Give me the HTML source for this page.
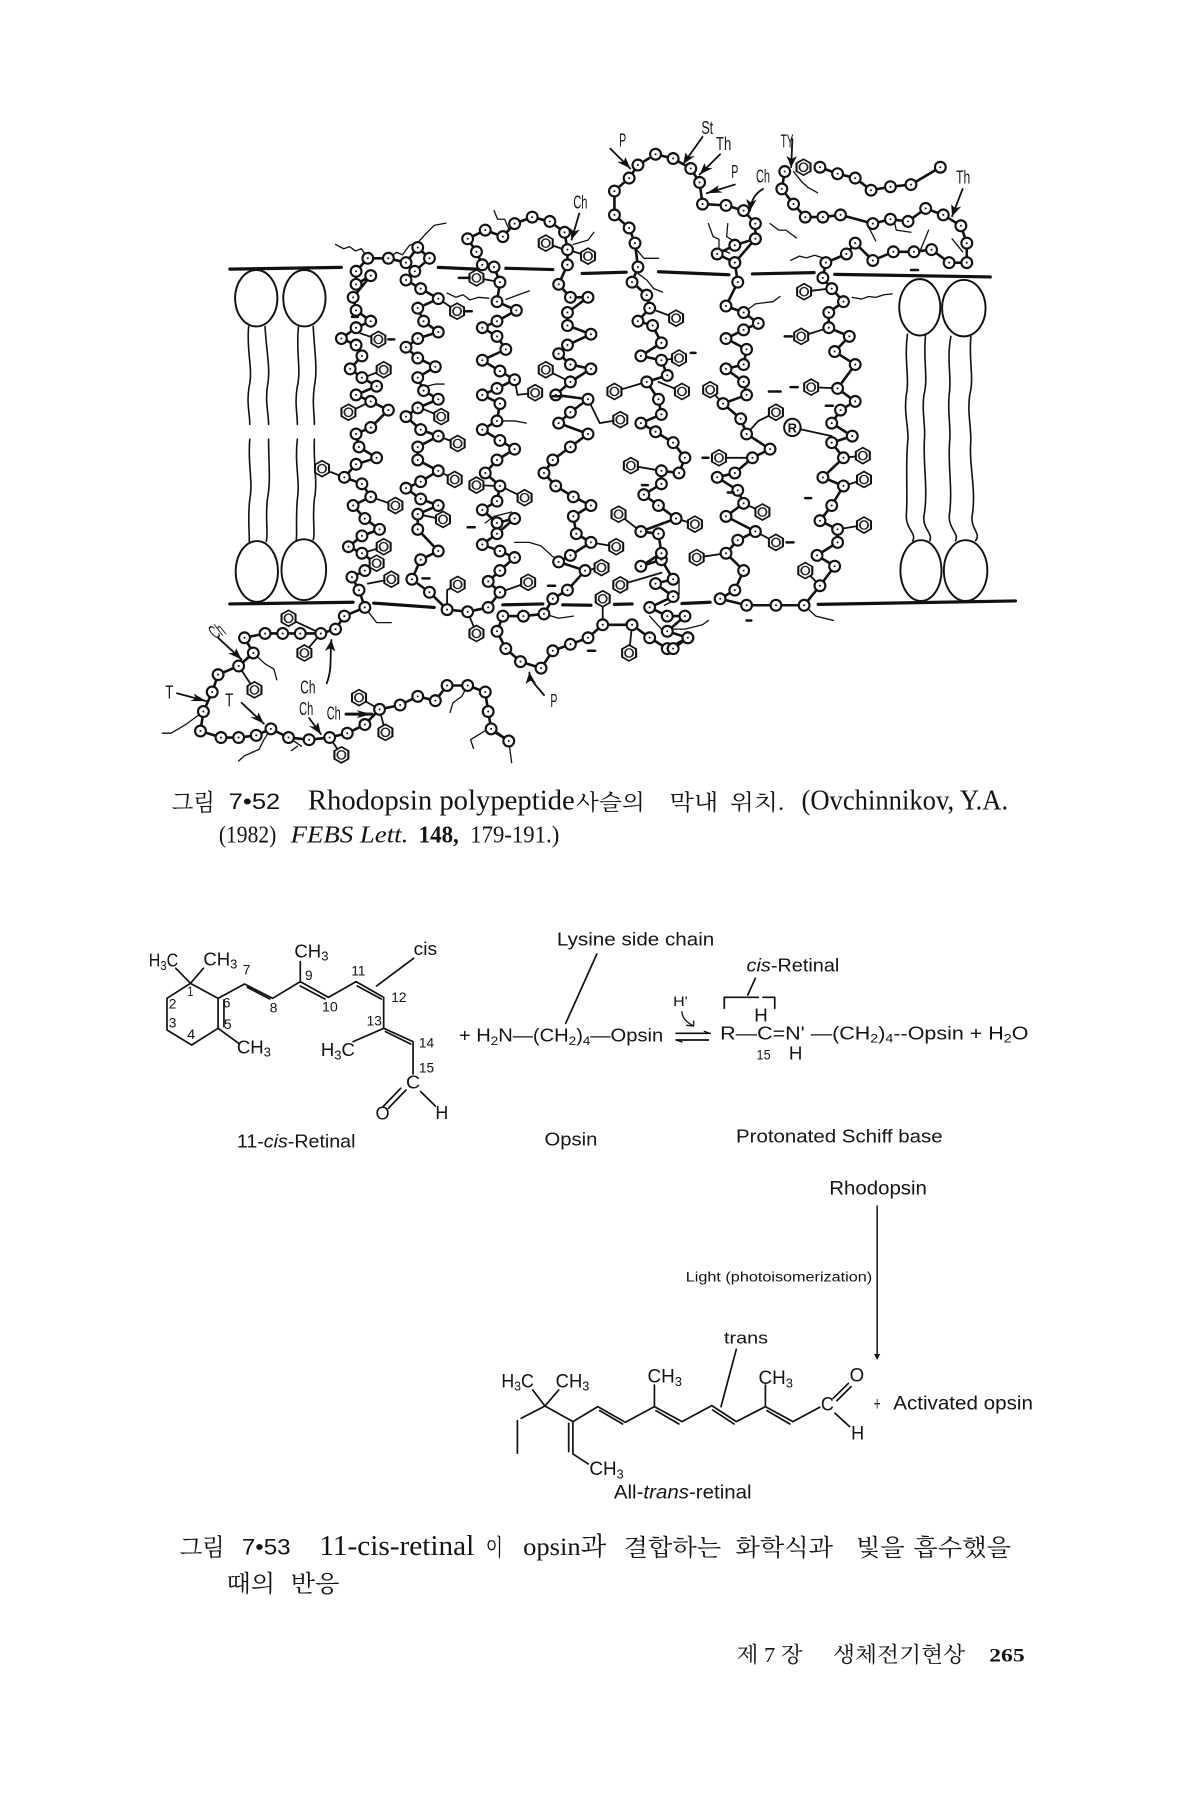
<!DOCTYPE html>
<html lang="ko">
<head>
<meta charset="utf-8">
<title>Rhodopsin figure</title>
<style>
html,body{margin:0;padding:0;background:#fff}
svg{display:block}
text{fill:#141414;font-family:"Liberation Sans","Noto Sans CJK KR",sans-serif}
.s text{font-family:"Liberation Serif","Noto Serif CJK SC","Noto Serif CJK KR",serif}
.kr{font-family:"Liberation Serif","Noto Serif CJK SC","Noto Serif CJK KR",serif!important}
.chain{fill:none;stroke:#111;stroke-width:2.600;stroke-linejoin:round;vector-effect:non-scaling-stroke;marker-start:url(#b);marker-mid:url(#b);marker-end:url(#b)}
.rings{fill:none;stroke:none;marker-start:url(#r);marker-mid:url(#r);marker-end:url(#r)}
.l{fill:none;stroke:#111;stroke-linecap:round;stroke-linejoin:round;vector-effect:non-scaling-stroke}
.l path{vector-effect:non-scaling-stroke}
.lip ellipse{vector-effect:non-scaling-stroke}
</style>
</head>
<body>
<svg xmlns="http://www.w3.org/2000/svg" width="1200" height="1800" viewBox="0 0 1200 1800">
<defs>
<marker id="b" markerUnits="userSpaceOnUse" markerWidth="26" markerHeight="34" refX="13" refY="17" orient="0">
<ellipse cx="13" cy="17" rx="11" ry="15" fill="#111"/><ellipse cx="13" cy="17" rx="7.400" ry="10" fill="#fff"/><ellipse cx="13" cy="17" rx="1.700" ry="2.300" fill="#111"/>
</marker>
<marker id="r" markerUnits="userSpaceOnUse" markerWidth="32" markerHeight="46" refX="16" refY="23" orient="0">
<polygon points="16,4.600 27.900,13.800 27.900,32.200 16,41.400 4.100,32.200 4.100,13.800" fill="#fff" stroke="#111" stroke-width="3.500"/><ellipse cx="16" cy="23" rx="7" ry="9.700" fill="none" stroke="#222" stroke-width="3"/>
</marker>
<marker id="a" markerUnits="userSpaceOnUse" markerWidth="30" markerHeight="24" refX="26" refY="12" orient="auto">
<path d="M0 3L26 12L0 21L7 12Z" fill="#111"/>
</marker>
</defs>
<rect width="1200" height="1800" fill="#fff"/>

<!-- Figure 7.52 -->
<g transform="translate(130,100) scale(.5872,.4337)">
<!-- membrane -->
<path class="l" stroke-width="3.200" d="M170 390L360 386M525 386L590 390M640 388L720 391M770 400L845 397M900 396L1020 403M1060 401L1165 398M1200 402L1465 408M170 1162L380 1158M415 1160L518 1170M635 1164L703 1162M737 1164L785 1165M825 1163L855 1162M940 1161L988 1158M1172 1163L1508 1155"/>
<!-- lipids -->
<g class="lip" fill="#fff" stroke="#111" stroke-width="1.900">
<ellipse cx="215" cy="457" rx="36" ry="65"/><ellipse cx="297" cy="457" rx="36" ry="65"/>
<ellipse cx="216" cy="1087" rx="36" ry="70"/><ellipse cx="296" cy="1083" rx="38" ry="70"/>
<ellipse cx="1345" cy="478" rx="35" ry="65"/><ellipse cx="1420" cy="480" rx="37" ry="65"/>
<ellipse cx="1347" cy="1085" rx="35" ry="70"/><ellipse cx="1423" cy="1085" rx="37" ry="70"/>
</g>
<path class="l" stroke-width="1.600" d="M202 522C198 580 210 620 203 660C198 700 204 720 204 748M230 522C232 580 240 620 234 660C230 700 236 720 236 748M287 522C282 580 292 620 285 660C280 700 285 720 285 748M312 522C314 580 320 620 314 660C310 700 314 720 314 748M204 782C200 840 210 880 204 920C200 970 204 1000 203 1018M236 782C236 840 240 880 234 920C230 970 236 1000 232 1018M285 782C280 840 290 880 285 920C282 970 285 1000 283 1014M314 782C312 840 320 880 314 920C310 970 316 1000 312 1014M1324 540C1318 600 1328 640 1322 680C1318 720 1325 750 1325 780C1320 840 1325 900 1322 960C1322 990 1340 1000 1333 1016M1355 540C1350 600 1360 640 1352 680C1348 720 1355 750 1353 780C1350 840 1360 900 1352 960C1350 990 1368 1000 1362 1016M1398 545C1390 600 1400 640 1395 680C1392 720 1398 750 1396 785C1392 840 1402 900 1395 960C1395 990 1412 1000 1406 1016M1432 545C1428 600 1438 640 1430 680C1426 720 1432 750 1432 785C1428 840 1442 900 1434 960C1432 990 1450 1000 1440 1016"/>
<!-- side chains -->
<path class="l" stroke-width="1.800" d="M423 552L392 538M432 622L398 640M372 720L410 695M327 850L365 870M452 935L410 915M432 1030L395 1045M420 1068L395 1085M445 1105L405 1115M270 1195L325 1230M297 1275L325 1230M212 1360L185 1305M435 1458L425 1405M360 1510L340 1470M390 1378L425 1405M590 1230L575 1180M558 1117L540 1130L540 1175M533 967L490 955M530 730L495 710M557 487L525 458M558 792L525 775M553 875L525 855M590 888L625 890M672 917L630 890M678 1112L630 1135M708 622L750 650M690 675L660 680L655 645M708 330L740 345M780 360L745 345M590 410L630 420M835 737L800 745L780 690M825 672L880 650M803 1078L775 1085M828 1030L785 1020M805 1150L805 1210M835 1118L905 1090M850 1275L855 1210M853 843L905 855M832 955L870 995M962 978L930 965M940 672L900 650M935 595L905 600M930 503L885 480M988 668L1010 700M1003 825L1060 825M965 1055L1015 1045M1077 950L1045 930M1100 1020L1065 995M1100 720L1070 740L1050 770M1148 442L1190 435M1143 545L1190 525M1160 662L1205 665M1248 820L1215 825M1250 875L1215 890M1250 980L1205 990M1150 1085L1175 1120M1128 755L1195 775"/>
<path class="l" stroke-width="1.300" d="M350 333l14 10 10-5 10 10 10-5 11 22M440 365l14-14 10 6 12-22 14-6 12-18 16-22 20-5M540 445l15 10 12-6 12 12 14-6 18 2M620 255l6 20 12 0 8 25M790 305l-10 18-25 10M985 285l8 30 10 6 0 22 18 10M1018 285l-2 30 12 10 8 18M1090 285l15 15 12 0 18 18M1130 165l15 25 10 12 16 12M1125 370l15-10 12 4 14-6 14 6M1230 455l16 4 12-6 12 2 14-6 14-2M1045 490l20-20 30-5 12-12M860 340l15 25 25 0M860 395l20 20 12 20 15 8M1255 285l15 40M1300 270l5 30 25 5M1360 300l-15 50M1400 320l18 30M640 460l20-10 20-10M630 740l25 0 20 5M505 660l15-5 15 0M605 975l15-15 30-10M655 1020l25 0 20 8 20 25 20 10M885 1190l20 30 20 0 20 0 30-10 10-10M935 1105l0 35-10 15-15 10M400 1170l20 35 25 0M1148 1165l20 25 30 10M705 1185l25 10 25-5M855 1210l-10-5M240 1450l-12 25-8 22-25 15-10 12M125 1410l-30 30-15 12-10 8-15 0M210 1275l20 25 15 12 5 25M610 1450l-30 25M580 1475l5 20M610 1450l30 25M645 1478l5 50M270 1470l22 20M285 1490l-10 10M575 1350l-10 25-15 15-5 22"/>
<!-- chains -->
<path class="chain" d="M645 1478L615 1450L610 1410L605 1365L575 1350L540 1350L520 1385L490 1375L460 1395L425 1405L400 1440L370 1460L340 1470L305 1475L270 1470L240 1450L215 1465L185 1470L155 1470L120 1455L125 1410L140 1365L150 1325L185 1305L210 1275L195 1240L230 1230L260 1230L290 1230L325 1230L350 1220L365 1190L400 1170L390 1130L378 1100L400 1085L420 1070L395 1045L372 1030L395 1005L425 990L400 965L380 935L410 915L395 885L365 870L385 840L420 825L390 800L385 770L410 755L440 715L410 695L385 680L420 660L395 640L375 620L395 590L385 565L360 550L385 525L410 510L385 485L380 455L410 405L385 425L385 395L405 365L440 365L470 375L490 340L510 365L485 395L470 415L495 435L525 458L490 480L500 510L525 535L490 550L470 570L490 595L520 615L490 640L500 670L525 690L490 710L470 730L495 760L525 775L490 800L490 830L525 855L495 880L470 895L495 920L525 935L490 955L490 990L525 1040L495 1060L480 1105L510 1135L540 1175L575 1180L610 1170L630 1135L610 1110L630 1085L655 1055L630 1040L600 1025L625 1000L655 965L625 975L600 945L625 925L630 890L605 860L625 830L655 805L630 785L600 760L625 740L630 700L600 680L625 665L655 645L630 625L600 600L640 575L625 545L600 525L625 510L658 485L625 465L630 420L620 385L600 380L590 350L575 320L605 300L635 315L655 285L685 270L715 280L740 305L745 345L745 380L730 425L750 455L780 455L745 490L745 520L785 540L745 565L730 585L750 610L785 620L750 650L725 680L780 690L750 720L730 745L780 770L750 800L720 830L705 860L725 890L755 915L785 935L755 960L760 1000L785 1020L750 1050L730 1065L775 1085L745 1130L720 1150L705 1185L670 1190L635 1190L625 1225L640 1265L665 1295L700 1310L720 1270L750 1255L780 1240L805 1210L855 1210L885 1240L915 1265L950 1240L915 1225L945 1190L915 1190L885 1170L925 1145L895 1115L925 1105L905 1060L870 1075L905 1045L900 1000L870 995L930 965L900 935L875 910L905 885L905 855L935 860L945 825L925 790L895 765L870 745L905 725L900 690L880 650L915 635L905 600L870 590L905 560L890 520L865 510L885 480L880 450L855 420L865 385L860 330L850 295L825 265L825 210L850 180L865 150L895 125L925 135L955 158L970 190L975 240L1015 243L1045 255L1065 285L1065 320L1030 375L1035 420L1015 475L1045 490L1070 515L1045 530L1015 550L1050 575L1045 610L1015 620L1045 650L1050 680L1010 700L1040 735L1050 770L1090 805L1060 825L1030 860L1000 870L1035 900L1045 930L1015 960L1065 995L1035 1015L1015 1045L1045 1085L1030 1130L1005 1150L1050 1165L1100 1165L1148 1165L1175 1120L1200 1075L1170 1050L1205 1020L1205 990L1175 970L1195 935L1215 890L1180 870L1215 825L1195 790L1230 775L1195 745L1210 715L1235 695L1205 665L1235 610L1200 580L1225 545L1190 525L1190 490L1215 465L1195 435L1180 410L1185 375L1220 355L1235 330L1265 370L1300 350L1335 350L1365 345L1395 375L1425 375L1425 330L1415 290L1385 265L1355 250L1325 280L1295 275L1265 285L1210 265L1180 270L1150 270L1130 240L1110 205L1115 165"/>
<path class="chain" d="M1175 155L1205 170L1235 180L1262 208L1295 200L1330 195L1380 155"/>
<path class="chain" d="M1030 335L1000 355L1030 375M1065 320L1030 335M950 1240L925 1265"/>
<!-- rings -->
<path class="rings" d="M423 552L432 622L372 720L327 850L452 935L432 1030L420 1068L445 1105L270 1195L297 1275L212 1360L435 1458L360 1510L390 1378L590 1230L558 1117L533 967L530 730L557 487L558 792L553 875L590 888L672 917L678 1112L708 622L690 675L708 330L780 360L590 410L835 737L825 672L803 1078L828 1030L805 1150L835 1118L850 1275L853 843L832 955L962 978L940 672L935 595L930 503L988 668L1003 825L965 1055L1077 950L1100 1020L1100 720L1148 442L1143 545L1160 662L1248 820L1250 875L1250 980L1150 1085L1147 155"/>
<ellipse cx="1128" cy="755" rx="14" ry="20" fill="#fff" stroke="#111" stroke-width="2" vector-effect="non-scaling-stroke"/>
<text x="1120" y="767" font-size="30" font-weight="700" textLength="16" lengthAdjust="spacingAndGlyphs">R</text>
<!-- small marks -->
<path class="l" stroke-width="2.500" d="M440 552h10M570 487h12M560 410h18M1115 545h12M1125 662h12M1088 672h20M955 583h8M720 683h16M975 825h10M1118 1020h12M498 1103h12M712 1120h12M575 985h12M378 500h10M1185 705h12M780 1270h12M1050 1200h8M1330 392h12M872 888h10M1018 905h10M1150 918h10"/>
<!-- arrows -->
<g class="l" stroke-width="1.800">
<path d="M765 262L752 322" marker-end="url(#a)"/>
<path d="M818 112L852 158" marker-end="url(#a)"/>
<path d="M975 85L942 148" marker-end="url(#a)"/>
<path d="M1005 125L970 172" marker-end="url(#a)"/>
<path d="M1030 195L982 215" marker-end="url(#a)"/>
<path d="M1078 205C1065 215 1058 230 1056 255" marker-end="url(#a)"/>
<path d="M1128 90L1126 155" marker-end="url(#a)"/>
<path d="M1418 205L1400 268" marker-end="url(#a)"/>
<path d="M335 1345C345 1310 340 1280 343 1245" marker-end="url(#a)"/>
<path d="M150 1240L190 1290" marker-end="url(#a)"/>
<path d="M80 1368L130 1386" marker-end="url(#a)"/>
<path d="M190 1390L228 1438" marker-end="url(#a)"/>
<path d="M305 1425L325 1462" marker-end="url(#a)"/>
<path d="M368 1416L412 1416" marker-end="url(#a)" stroke-width="3"/>
<path d="M705 1372C695 1355 682 1340 680 1320" marker-end="url(#a)"/>
</g>
<!-- labels -->
<g font-size="42">
<text x="755" y="250" textLength="24" lengthAdjust="spacingAndGlyphs">Ch</text>
<text x="833" y="107" textLength="12" lengthAdjust="spacingAndGlyphs">P</text>
<text x="973" y="78" textLength="20" lengthAdjust="spacingAndGlyphs">St</text>
<text x="998" y="115" textLength="26" lengthAdjust="spacingAndGlyphs">Th</text>
<text x="1024" y="180" textLength="12" lengthAdjust="spacingAndGlyphs">P</text>
<text x="1066" y="190" textLength="24" lengthAdjust="spacingAndGlyphs">Ch</text>
<text x="1108" y="110" textLength="22" lengthAdjust="spacingAndGlyphs">TY</text>
<text x="1407" y="192" textLength="24" lengthAdjust="spacingAndGlyphs">Th</text>
<text x="290" y="1368" textLength="26" lengthAdjust="spacingAndGlyphs">Ch</text>
<text x="138" y="1238" textLength="24" lengthAdjust="spacingAndGlyphs" transform="rotate(-30 150 1228)">Ch</text>
<text x="60" y="1380" textLength="14" lengthAdjust="spacingAndGlyphs">T</text>
<text x="162" y="1398" textLength="14" lengthAdjust="spacingAndGlyphs">T</text>
<text x="288" y="1418" textLength="24" lengthAdjust="spacingAndGlyphs">Ch</text>
<text x="335" y="1428" textLength="24" lengthAdjust="spacingAndGlyphs">Ch</text>
<text x="716" y="1400" textLength="12" lengthAdjust="spacingAndGlyphs">P</text>
</g>
</g>

<!-- Caption 7.52 -->
<g class="s" transform="translate(150,760) scale(.574,.3333)" font-size="84">
<text class="kr" x="38" y="152" textLength="75" lengthAdjust="spacingAndGlyphs" font-size="70">그림</text>
<text x="137" y="147" textLength="90" lengthAdjust="spacingAndGlyphs" style="font-family:'Liberation Sans',sans-serif" font-size="66">7•52</text>
<text x="275" y="148" textLength="465" lengthAdjust="spacingAndGlyphs">Rhodopsin polypeptide</text>
<text class="kr" x="742" y="150" textLength="120" lengthAdjust="spacingAndGlyphs" font-size="66">사슬의</text>
<text class="kr" x="905" y="150" textLength="85" lengthAdjust="spacingAndGlyphs" font-size="66">막내</text>
<text class="kr" x="1010" y="150" textLength="95" lengthAdjust="spacingAndGlyphs" font-size="66">위치.</text>
<text x="1135" y="148" textLength="360" lengthAdjust="spacingAndGlyphs">(Ovchinnikov, Y.A.</text>
<g font-size="74">
<text x="120" y="247" textLength="100" lengthAdjust="spacingAndGlyphs">(1982)</text>
<text x="245" y="247" textLength="205" lengthAdjust="spacingAndGlyphs" font-style="italic">FEBS Lett.</text>
<text x="468" y="247" textLength="70" lengthAdjust="spacingAndGlyphs" font-weight="700">148,</text>
<text x="558" y="247" textLength="155" lengthAdjust="spacingAndGlyphs">179-191.)</text>
</g>
</g>

<!-- Reaction 1 -->
<g transform="translate(130,900) scale(.5872,.3333)">
<path class="l" stroke-width="1.700" d="M150 295L103 250L63 295L63 390L105 435L150 385L150 295L195 252L243 295L290 245L338 292L385 245L432 292L432 385L482 425L482 522M103 250L78 205M103 250L125 205M150 385L185 430M160 300L160 380M200 262L238 297M290 258L332 297M387 258L428 297M435 395L478 432M290 245L290 185M432 385L380 425M420 258L483 175M470 570L440 625M461 565L431 620M495 575L520 618M795 162L742 370M1012 325V292H1070M1078 292H1098V325M1065 235L1052 285M930 400H988M930 420H985"/>
<path class="l" stroke-width="1.300" d="M940 335C940 350 945 365 960 378M948 376L960 378L960 364M978 394L988 400M940 426L930 420"/>
<g font-size="54">
<text x="727" y="136" textLength="268" lengthAdjust="spacingAndGlyphs">Lysine side chain</text>
<text x="32" y="200" textLength="50" lengthAdjust="spacingAndGlyphs">H<tspan dy="10" font-size="38">3</tspan><tspan dy="-10">C</tspan></text>
<text x="125" y="196" textLength="58" lengthAdjust="spacingAndGlyphs">CH<tspan dy="10" font-size="38">3</tspan></text>
<text x="280" y="172" textLength="58" lengthAdjust="spacingAndGlyphs">CH<tspan dy="10" font-size="38">3</tspan></text>
<text x="182" y="460" textLength="58" lengthAdjust="spacingAndGlyphs">CH<tspan dy="10" font-size="38">3</tspan></text>
<text x="325" y="468" textLength="58" lengthAdjust="spacingAndGlyphs">H<tspan dy="10" font-size="38">3</tspan><tspan dy="-10">C</tspan></text>
<text x="483" y="165" textLength="40" lengthAdjust="spacingAndGlyphs">cis</text>
<text x="470" y="566" textLength="24" lengthAdjust="spacingAndGlyphs">C</text>
<text x="418" y="658" textLength="24" lengthAdjust="spacingAndGlyphs">O</text>
<text x="520" y="657" textLength="22" lengthAdjust="spacingAndGlyphs">H</text>
<text x="182" y="743" textLength="202" lengthAdjust="spacingAndGlyphs">11-<tspan font-style="italic">cis</tspan>-Retinal</text>
<text x="706" y="737" textLength="90" lengthAdjust="spacingAndGlyphs">Opsin</text>
<text x="1032" y="727" textLength="352" lengthAdjust="spacingAndGlyphs">Protonated Schiff base</text>
<text x="560" y="425" textLength="348" lengthAdjust="spacingAndGlyphs">+ H<tspan dy="10" font-size="36">2</tspan><tspan dy="-10">N—(CH</tspan><tspan dy="10" font-size="36">2</tspan><tspan dy="-10">)</tspan><tspan dy="10" font-size="36">4</tspan><tspan dy="-10">—Opsin</tspan></text>
<text x="1005" y="418" textLength="525" lengthAdjust="spacingAndGlyphs">R—C=N' —(CH<tspan dy="10" font-size="36">2</tspan><tspan dy="-10">)</tspan><tspan dy="10" font-size="36">4</tspan><tspan dy="-10">--Opsin + H</tspan><tspan dy="10" font-size="36">2</tspan><tspan dy="-10">O</tspan></text>
<text x="1063" y="365" textLength="23" lengthAdjust="spacingAndGlyphs">H</text>
<text x="1122" y="478" textLength="23" lengthAdjust="spacingAndGlyphs">H</text>
<text x="1050" y="215" textLength="158" lengthAdjust="spacingAndGlyphs"><tspan font-style="italic">cis</tspan>-Retinal</text>
</g>
<g font-size="42">
<text x="925" y="318" textLength="25" lengthAdjust="spacingAndGlyphs">H'</text>
<text x="1067" y="478" textLength="24" lengthAdjust="spacingAndGlyphs">15</text>
<text x="192" y="224" textLength="13" lengthAdjust="spacingAndGlyphs">7</text>
<text x="98" y="288" textLength="10" lengthAdjust="spacingAndGlyphs">1</text>
<text x="66" y="325" textLength="13" lengthAdjust="spacingAndGlyphs">2</text>
<text x="66" y="383" textLength="13" lengthAdjust="spacingAndGlyphs">3</text>
<text x="97" y="417" textLength="14" lengthAdjust="spacingAndGlyphs">4</text>
<text x="160" y="387" textLength="13" lengthAdjust="spacingAndGlyphs">5</text>
<text x="158" y="322" textLength="13" lengthAdjust="spacingAndGlyphs">6</text>
<text x="238" y="338" textLength="13" lengthAdjust="spacingAndGlyphs">8</text>
<text x="298" y="240" textLength="13" lengthAdjust="spacingAndGlyphs">9</text>
<text x="327" y="335" textLength="27" lengthAdjust="spacingAndGlyphs">10</text>
<text x="377" y="226" textLength="24" lengthAdjust="spacingAndGlyphs">11</text>
<text x="445" y="306" textLength="26" lengthAdjust="spacingAndGlyphs">12</text>
<text x="403" y="376" textLength="26" lengthAdjust="spacingAndGlyphs">13</text>
<text x="492" y="443" textLength="26" lengthAdjust="spacingAndGlyphs">14</text>
<text x="492" y="518" textLength="26" lengthAdjust="spacingAndGlyphs">15</text>
</g>
</g>

<!-- Reaction 2 -->
<g transform="translate(460,1160) scale(.3827,.3333)">
<path class="l" stroke-width="1.700" d="M150 880V782M160 775L222 738L190 690M222 738L258 690M222 738L295 785L360 740L432 787L508 740L580 785L658 737L722 785L798 740L870 785L940 742M798 740V675M508 740V675M365 752L425 792M512 752L572 792M660 750L716 792M802 752L862 792M295 785V880M284 790V875M295 882L335 912M975 715L1015 670M985 722L1022 680M980 760L1018 800M722 568L682 740"/>
<path class="l" stroke-width="1.500" d="M1090 138V590"/>
<path d="M1082 582L1090 600L1098 582Z" fill="#111"/>
<g font-size="58">
<text x="965" y="103" textLength="255" lengthAdjust="spacingAndGlyphs">Rhodopsin</text>
<text x="1132" y="748" textLength="365" lengthAdjust="spacingAndGlyphs">Activated opsin</text>
<text x="402" y="1015" textLength="360" lengthAdjust="spacingAndGlyphs">All-<tspan font-style="italic">trans</tspan>-retinal</text>
<text x="690" y="550" textLength="115" lengthAdjust="spacingAndGlyphs" font-size="50">trans</text>
<text x="1081" y="750" textLength="18" lengthAdjust="spacingAndGlyphs">+</text>
<text x="108" y="682" textLength="85" lengthAdjust="spacingAndGlyphs">H<tspan dy="10" font-size="40">3</tspan><tspan dy="-10">C</tspan></text>
<text x="250" y="682" textLength="88" lengthAdjust="spacingAndGlyphs">CH<tspan dy="10" font-size="40">3</tspan></text>
<text x="490" y="668" textLength="90" lengthAdjust="spacingAndGlyphs">CH<tspan dy="10" font-size="40">3</tspan></text>
<text x="780" y="672" textLength="90" lengthAdjust="spacingAndGlyphs">CH<tspan dy="10" font-size="40">3</tspan></text>
<text x="338" y="945" textLength="90" lengthAdjust="spacingAndGlyphs">CH<tspan dy="10" font-size="40">3</tspan></text>
<text x="1018" y="665" textLength="38" lengthAdjust="spacingAndGlyphs">O</text>
<text x="943" y="752" textLength="34" lengthAdjust="spacingAndGlyphs">C</text>
<text x="1022" y="838" textLength="34" lengthAdjust="spacingAndGlyphs">H</text>
</g>
<text x="590" y="365" textLength="487" lengthAdjust="spacingAndGlyphs" font-size="42">Light (photoisomerization)</text>
</g>

<!-- Caption 7.53 + footer -->
<g class="s" transform="translate(150,1500) scale(.574,.3333)" font-size="84">
<text class="kr" x="52" y="167" textLength="78" lengthAdjust="spacingAndGlyphs" font-size="72">그림</text>
<text x="160" y="163" textLength="85" lengthAdjust="spacingAndGlyphs" style="font-family:'Liberation Sans',sans-serif" font-size="66">7•53</text>
<text x="295" y="165" textLength="270" lengthAdjust="spacingAndGlyphs">11-cis-retinal</text>
<text class="kr" x="585" y="167" textLength="30" lengthAdjust="spacingAndGlyphs" font-size="70">이</text>
<text class="kr" x="650" y="165" textLength="145" lengthAdjust="spacingAndGlyphs" font-size="76">opsin과</text>
<text class="kr" x="825" y="167" textLength="170" lengthAdjust="spacingAndGlyphs" font-size="70">결합하는</text>
<text class="kr" x="1020" y="167" textLength="170" lengthAdjust="spacingAndGlyphs" font-size="70">화학식과</text>
<text class="kr" x="1230" y="167" textLength="85" lengthAdjust="spacingAndGlyphs" font-size="70">빛을</text>
<text class="kr" x="1330" y="167" textLength="170" lengthAdjust="spacingAndGlyphs" font-size="70">흡수했을</text>
<text class="kr" x="133" y="275" textLength="85" lengthAdjust="spacingAndGlyphs" font-size="70">때의</text>
<text class="kr" x="245" y="275" textLength="85" lengthAdjust="spacingAndGlyphs" font-size="70">반응</text>
<text class="kr" x="1022" y="486" textLength="115" lengthAdjust="spacingAndGlyphs" font-size="64">제 7 장</text>
<text class="kr" x="1190" y="486" textLength="230" lengthAdjust="spacingAndGlyphs" font-size="64">생체전기현상</text>
<text x="1462" y="484" textLength="62" lengthAdjust="spacingAndGlyphs" font-weight="700" font-size="56">265</text>
</g>
</svg>
</body>
</html>
